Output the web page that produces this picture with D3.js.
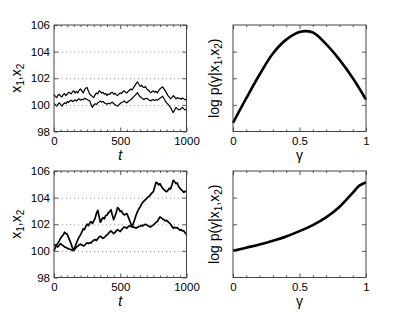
<!DOCTYPE html>
<html>
<head>
<meta charset="utf-8">
<script src="https://cdn.jsdelivr.net/npm/d3@7"></script>
<style>
    body { margin: 0; background: #fff; }
    svg text { font-family: "Liberation Sans", Arial, Helvetica, sans-serif; fill: #000; }
    .tick line { stroke: #555; }
    .grid line { stroke: #9a9a9a; stroke-dasharray: 1, 3; }
</style>
</head>
<body>
<div id="chart"></div>
<script>
// sampling step of the price series (time units per value)
var tStep = 10;

// top row, prices of the two assets
var topX1 = [100.80, 100.62, 100.55, 100.72, 100.80, 100.66, 100.60, 100.78, 100.85, 100.70,
    100.80, 100.95, 100.90, 100.82, 101.00, 101.05, 100.88, 101.02, 100.90, 101.10,
    101.20, 101.05, 100.90, 101.12, 101.25, 101.30, 101.02, 100.80, 100.72, 100.62,
    100.55, 100.75, 100.90, 100.82, 101.05, 101.00, 100.88, 100.95, 100.80, 100.85,
    100.70, 100.82, 100.78, 100.90, 100.95, 100.80, 100.88, 100.74, 100.70, 100.82,
    100.90, 100.85, 101.00, 101.05, 100.95, 100.90, 101.02, 101.10, 101.20, 101.12,
    101.30, 101.45, 101.60, 101.72, 101.55, 101.40, 101.48, 101.35, 101.30, 101.38,
    101.20, 101.12, 101.02, 100.90, 101.00, 101.05, 100.95, 101.02, 100.90, 101.08,
    101.20, 101.28, 101.35, 101.20, 101.05, 100.88, 100.70, 100.58, 100.45, 100.55,
    100.70, 100.60, 100.45, 100.55, 100.48, 100.50, 100.42, 100.52, 100.45, 100.38,
    100.40];
var topX2 = [100.10, 100.02, 99.90, 100.05, 100.15, 100.02, 99.90, 100.05, 100.15, 100.10,
    100.25, 100.18, 100.30, 100.35, 100.25, 100.30, 100.38, 100.28, 100.40, 100.45,
    100.35, 100.42, 100.38, 100.50, 100.45, 100.40, 100.35, 100.30, 100.02, 99.80,
    100.00, 100.08, 100.02, 100.15, 100.22, 100.30, 100.20, 100.25, 100.15, 100.10,
    100.05, 100.12, 100.08, 100.15, 100.20, 100.10, 100.02, 99.95, 99.90, 100.00,
    100.10, 100.18, 100.22, 100.30, 100.20, 100.15, 100.25, 100.32, 100.40, 100.48,
    100.60, 100.70, 100.80, 100.92, 100.75, 100.60, 100.55, 100.45, 100.40, 100.48,
    100.50, 100.42, 100.35, 100.30, 100.38, 100.40, 100.32, 100.40, 100.35, 100.42,
    100.50, 100.58, 100.65, 100.48, 100.30, 100.15, 100.05, 99.92, 99.80, 99.60,
    99.42, 99.62, 99.80, 99.72, 99.62, 99.65, 99.75, 99.80, 99.70, 99.62,
    99.65];

// bottom row, prices of the two assets
var botX1 = [100.00, 100.25, 100.45, 100.60, 100.75, 100.95, 101.10, 101.20, 101.40, 101.30,
    101.25, 101.00, 100.75, 100.50, 100.20, 100.10, 100.35, 100.60, 100.85, 101.05,
    101.20, 101.40, 101.65, 101.60, 101.85, 102.00, 101.90, 102.10, 102.20, 102.05,
    102.25, 102.45, 102.80, 103.05, 102.60, 102.15, 102.35, 102.50, 102.40, 102.65,
    102.70, 102.85, 102.95, 103.10, 102.70, 102.35, 102.60, 102.90, 103.25, 103.15,
    102.95, 103.00, 102.80, 102.70, 102.75, 102.80, 102.55, 102.30, 102.05, 101.85,
    102.10, 102.40, 102.70, 102.95, 103.15, 103.30, 103.50, 103.65, 103.75, 103.85,
    103.95, 104.05, 104.10, 104.25, 104.35, 104.45, 104.80, 105.15, 105.10, 104.95,
    105.05, 104.85, 104.70, 104.60, 104.50, 104.45, 104.55, 104.70, 104.65, 104.95,
    105.30, 105.20, 105.05, 105.10, 104.85, 104.70, 104.60, 104.50, 104.40, 104.48,
    104.45];
var botX2 = [100.50, 100.42, 100.35, 100.30, 100.45, 100.55, 100.45, 100.38, 100.30, 100.25,
    100.20, 100.15, 100.12, 100.10, 100.02, 100.05, 100.15, 100.30, 100.35, 100.45,
    100.50, 100.45, 100.38, 100.40, 100.52, 100.60, 100.55, 100.62, 100.60, 100.72,
    100.80, 100.85, 100.78, 100.90, 101.05, 101.10, 101.02, 100.95, 101.00, 101.12,
    101.20, 101.30, 101.42, 101.50, 101.40, 101.30, 101.38, 101.50, 101.60, 101.52,
    101.45, 101.58, 101.70, 101.80, 101.75, 101.70, 101.82, 101.90, 101.85, 101.78,
    101.80, 101.75, 101.70, 101.78, 101.82, 101.85, 101.92, 101.88, 101.95, 102.00,
    101.95, 101.88, 101.82, 101.80, 101.88, 101.95, 102.05, 102.15, 102.20, 102.40,
    102.55, 102.48, 102.40, 102.35, 102.25, 102.30, 102.20, 102.10, 102.00, 101.85,
    101.70, 101.78, 101.72, 101.75, 101.65, 101.55, 101.60, 101.50, 101.50, 101.35,
    101.20];

// log posterior of gamma (arbitrary units, no tick labels)
var topGamma = [0, 0.1, 0.2, 0.3, 0.4, 0.5, 0.6, 0.7, 0.8, 0.9, 1.0];
var topLogPost = [0.32, 1.25, 2.14, 2.93, 3.45, 3.74, 3.72, 3.28, 2.70, 2.01, 1.20];
var botGamma = [0, 0.1, 0.2, 0.3, 0.4, 0.5, 0.6, 0.7, 0.8, 0.9, 0.95, 1.0];
var botLogPost = [1.00, 1.12, 1.24, 1.38, 1.54, 1.74, 1.97, 2.26, 2.65, 3.18, 3.45, 3.58];

// tick values
var timeTicks = [0, 500, 1000];
var timeMinor = [50, 100, 150, 200, 250, 300, 350, 400, 450, 550, 600, 650, 700, 750, 800, 850, 900, 950];
var priceTicks = [98, 100, 102, 104, 106];
var priceGrid = [100, 102, 104];
var gammaTicks = [0, 0.5, 1];
var gammaMinor = [0.1, 0.2, 0.3, 0.4, 0.6, 0.7, 0.8, 0.9];
var postTicks = [1, 2, 3];

var W = 415, H = 312;
var rows = [{top: 25, bottom: 131.5}, {top: 171, bottom: 277.5}];
var leftX = [54, 186.5], rightX = [233, 366];

var svg = d3.select( "#chart" )
    .append( "svg" )
    .attr( "width", W )
    .attr( "height", H );

svg.append( "rect" ).attr( "width", W ).attr( "height", H ).attr( "fill", "#fff" );

function addAxes(g, x, y, xTicks, xMinor, yTicks, xFormat, yFormat) {
    var x0 = x.range()[0], x1 = x.range()[1];
    var y0 = y.range()[1], y1 = y.range()[0];

    g.append( "g" )
        .attr( "transform", "translate(0," + y1 + ")" )
        .call( d3.axisBottom( x ).tickValues( xTicks ).tickSizeInner( -4 ).tickSizeOuter( 0 )
            .tickPadding( 5 ).tickFormat( xFormat ) );
    g.append( "g" )
        .attr( "transform", "translate(0," + y0 + ")" )
        .call( d3.axisTop( x ).tickValues( xTicks ).tickSizeInner( -4 ).tickSizeOuter( 0 ).tickFormat( "" ) );
    g.append( "g" )
        .attr( "transform", "translate(0," + y1 + ")" )
        .call( d3.axisBottom( x ).tickValues( xMinor ).tickSizeInner( -2 ).tickSizeOuter( 0 ).tickFormat( "" ) );
    g.append( "g" )
        .attr( "transform", "translate(0," + y0 + ")" )
        .call( d3.axisTop( x ).tickValues( xMinor ).tickSizeInner( -2 ).tickSizeOuter( 0 ).tickFormat( "" ) );
    g.append( "g" )
        .attr( "transform", "translate(" + x0 + ",0)" )
        .call( d3.axisLeft( y ).tickValues( yTicks ).tickSizeInner( -4 ).tickSizeOuter( 0 )
            .tickPadding( 4 ).tickFormat( yFormat ) );
    g.append( "g" )
        .attr( "transform", "translate(" + x1 + ",0)" )
        .call( d3.axisRight( y ).tickValues( yTicks ).tickSizeInner( -4 ).tickSizeOuter( 0 ).tickFormat( "" ) );

    g.selectAll( ".domain" ).remove();
    g.selectAll( ".tick text" ).style( "font-size", "11.5px" ).attr( "fill", "#000" );

    // box
    g.append( "rect" )
        .attr( "x", x0 ).attr( "y", y0 )
        .attr( "width", x1 - x0 ).attr( "height", y1 - y0 )
        .attr( "fill", "none" )
        .attr( "stroke", "#444" )
        .attr( "stroke-width", 1 );
}

function addPricePanel(row, s1, s2, lineWidth) {
    var g = svg.append( "g" );
    var x = d3.scaleLinear().domain( [0, 1000] ).range( leftX );
    var y = d3.scaleLinear().domain( [98, 106] ).range( [row.bottom, row.top] );

    // dotted grid
    g.append( "g" )
        .attr( "class", "grid" )
        .attr( "transform", "translate(" + leftX[0] + ",0)" )
        .call( d3.axisLeft( y ).tickValues( priceGrid ).tickSize( -(leftX[1] - leftX[0]) ).tickFormat( "" ) )
        .select( ".domain" ).remove();

    var line = d3.line()
        .x( function (d, i) { return x( i * tStep ); } )
        .y( function (d) { return y( d ); } );

    [s1, s2].forEach( function (s) {
        g.append( "path" )
            .datum( s )
            .attr( "d", line )
            .attr( "fill", "none" )
            .attr( "stroke", "#000" )
            .attr( "stroke-width", lineWidth )
            .attr( "stroke-linejoin", "round" );
    } );

    addAxes( g, x, y, timeTicks, timeMinor, priceTicks, d3.format( "d" ), d3.format( "d" ) );

    // y label x1,x2
    var yl = g.append( "text" )
        .attr( "transform", "translate(21," + ((row.top + row.bottom) / 2) + ") rotate(-90)" )
        .style( "text-anchor", "middle" )
        .style( "font-size", "14px" );
    yl.append( "tspan" ).text( "x" );
    yl.append( "tspan" ).attr( "dy", 3 ).style( "font-size", "10px" ).text( "1" );
    yl.append( "tspan" ).attr( "dy", -3 ).text( ",x" );
    yl.append( "tspan" ).attr( "dy", 3 ).style( "font-size", "10px" ).text( "2" );

    // x label t
    g.append( "text" )
        .attr( "x", (leftX[0] + leftX[1]) / 2 )
        .attr( "y", row.bottom + 28.5 )
        .style( "text-anchor", "middle" )
        .style( "font-size", "14px" )
        .style( "font-style", "italic" )
        .text( "t" );
}

function addPosteriorPanel(row, gam, post) {
    var g = svg.append( "g" );
    var x = d3.scaleLinear().domain( [0, 1] ).range( rightX );
    var y = d3.scaleLinear().domain( [0, 4] ).range( [row.bottom, row.top] );

    var line = d3.line()
        .x( function (d, i) { return x( gam[i] ); } )
        .y( function (d) { return y( d ); } )
        .curve( d3.curveCatmullRom.alpha( 0.5 ) );

    g.append( "path" )
        .datum( post )
        .attr( "d", line )
        .attr( "fill", "none" )
        .attr( "stroke", "#000" )
        .attr( "stroke-width", 2.6 );

    addAxes( g, x, y, gammaTicks, gammaMinor, postTicks, d3.format( "" ), function () { return ""; } );

    var yl = g.append( "text" )
        .attr( "transform", "translate(219," + ((row.top + row.bottom) / 2) + ") rotate(-90)" )
        .style( "text-anchor", "middle" )
        .style( "font-size", "14px" );
    yl.append( "tspan" ).text( "log p(\u03b3|x" );
    yl.append( "tspan" ).attr( "dy", 3 ).style( "font-size", "10px" ).text( "1" );
    yl.append( "tspan" ).attr( "dy", -3 ).text( ",x" );
    yl.append( "tspan" ).attr( "dy", 3 ).style( "font-size", "10px" ).text( "2" );
    yl.append( "tspan" ).attr( "dy", -3 ).text( ")" );

    g.append( "text" )
        .attr( "x", (rightX[0] + rightX[1]) / 2 )
        .attr( "y", row.bottom + 28.5 )
        .style( "text-anchor", "middle" )
        .style( "font-size", "14px" )
        .text( "\u03b3" );
}

addPricePanel( rows[0], topX1, topX2, 1.2 );
addPricePanel( rows[1], botX1, botX2, 1.7 );
addPosteriorPanel( rows[0], topGamma, topLogPost );
addPosteriorPanel( rows[1], botGamma, botLogPost );
</script>
</body>
</html>
